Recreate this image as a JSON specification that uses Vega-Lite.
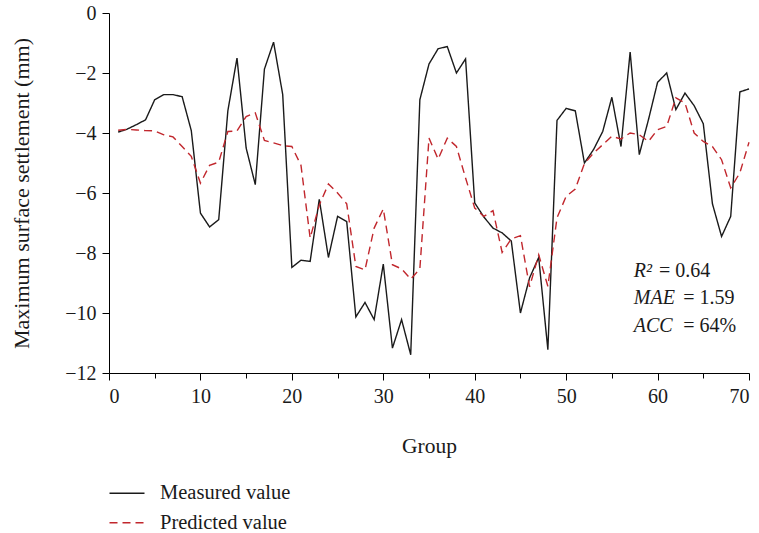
{
  "$schema": "https://vega.github.io/schema/vega-lite/v6.json",
  "width": 640,
  "height": 360,
  "autosize": {"type": "none"},
  "padding": {"left": 109, "top": 13, "right": 10, "bottom": 160},
  "config": {
    "font": "Liberation Serif",
    "view": {"stroke": null},
    "axis": {
      "domainColor": "#000",
      "tickColor": "#000",
      "labelColor": "#1a1a1a",
      "titleColor": "#1a1a1a",
      "labelFontSize": 20,
      "titleFontSize": 21.5,
      "titleFontWeight": "normal",
      "labelFont": "Liberation Serif",
      "titleFont": "Liberation Serif",
      "grid": false
    },
    "legend": {
      "title": null,
      "orient": "none",
      "legendX": 7.75,
      "legendY": 470,
      "direction": "vertical",
      "symbolType": "M-2,0L2,0",
      "symbolSize": 306,
      "symbolStrokeWidth": 1.4,
      "labelFontSize": 20.5,
      "labelFont": "Liberation Serif",
      "labelColor": "#1a1a1a",
      "labelOffset": 22.75,
      "rowPadding": 8.5,
      "padding": 0
    }
  },
  "datasets": {
    "series": [
      {"group":1,"series":"Measured value","value":-3.97},
      {"group":2,"series":"Measured value","value":-3.87},
      {"group":3,"series":"Measured value","value":-3.72},
      {"group":4,"series":"Measured value","value":-3.56},
      {"group":5,"series":"Measured value","value":-2.89},
      {"group":6,"series":"Measured value","value":-2.72},
      {"group":7,"series":"Measured value","value":-2.72},
      {"group":8,"series":"Measured value","value":-2.79},
      {"group":9,"series":"Measured value","value":-3.92},
      {"group":10,"series":"Measured value","value":-6.67},
      {"group":11,"series":"Measured value","value":-7.13},
      {"group":12,"series":"Measured value","value":-6.89},
      {"group":13,"series":"Measured value","value":-3.26},
      {"group":14,"series":"Measured value","value":-1.5},
      {"group":15,"series":"Measured value","value":-4.5},
      {"group":16,"series":"Measured value","value":-5.72},
      {"group":17,"series":"Measured value","value":-1.87},
      {"group":18,"series":"Measured value","value":-0.97},
      {"group":19,"series":"Measured value","value":-2.72},
      {"group":20,"series":"Measured value","value":-8.48},
      {"group":21,"series":"Measured value","value":-8.24},
      {"group":22,"series":"Measured value","value":-8.28},
      {"group":23,"series":"Measured value","value":-6.21},
      {"group":24,"series":"Measured value","value":-8.15},
      {"group":25,"series":"Measured value","value":-6.78},
      {"group":26,"series":"Measured value","value":-6.95},
      {"group":27,"series":"Measured value","value":-10.13},
      {"group":28,"series":"Measured value","value":-9.65},
      {"group":29,"series":"Measured value","value":-10.22},
      {"group":30,"series":"Measured value","value":-8.37},
      {"group":31,"series":"Measured value","value":-11.17},
      {"group":32,"series":"Measured value","value":-10.22},
      {"group":33,"series":"Measured value","value":-11.39},
      {"group":34,"series":"Measured value","value":-2.89},
      {"group":35,"series":"Measured value","value":-1.7},
      {"group":36,"series":"Measured value","value":-1.19},
      {"group":37,"series":"Measured value","value":-1.12},
      {"group":38,"series":"Measured value","value":-2.0},
      {"group":39,"series":"Measured value","value":-1.53},
      {"group":40,"series":"Measured value","value":-6.33},
      {"group":41,"series":"Measured value","value":-6.8},
      {"group":42,"series":"Measured value","value":-7.17},
      {"group":43,"series":"Measured value","value":-7.33},
      {"group":44,"series":"Measured value","value":-7.6},
      {"group":45,"series":"Measured value","value":-10.0},
      {"group":46,"series":"Measured value","value":-8.83},
      {"group":47,"series":"Measured value","value":-8.15},
      {"group":48,"series":"Measured value","value":-11.22},
      {"group":49,"series":"Measured value","value":-3.58},
      {"group":50,"series":"Measured value","value":-3.18},
      {"group":51,"series":"Measured value","value":-3.26},
      {"group":52,"series":"Measured value","value":-5.0},
      {"group":53,"series":"Measured value","value":-4.55},
      {"group":54,"series":"Measured value","value":-3.95},
      {"group":55,"series":"Measured value","value":-2.81},
      {"group":56,"series":"Measured value","value":-4.45},
      {"group":57,"series":"Measured value","value":-1.3},
      {"group":58,"series":"Measured value","value":-4.72},
      {"group":59,"series":"Measured value","value":-3.56},
      {"group":60,"series":"Measured value","value":-2.31},
      {"group":61,"series":"Measured value","value":-2.0},
      {"group":62,"series":"Measured value","value":-3.22},
      {"group":63,"series":"Measured value","value":-2.67},
      {"group":64,"series":"Measured value","value":-3.09},
      {"group":65,"series":"Measured value","value":-3.69},
      {"group":66,"series":"Measured value","value":-6.36},
      {"group":67,"series":"Measured value","value":-7.45},
      {"group":68,"series":"Measured value","value":-6.78},
      {"group":69,"series":"Measured value","value":-2.63},
      {"group":70,"series":"Measured value","value":-2.53},
      {"group":1,"series":"Predicted value","value":-3.91},
      {"group":2,"series":"Predicted value","value":-3.88},
      {"group":3,"series":"Predicted value","value":-3.9},
      {"group":4,"series":"Predicted value","value":-3.92},
      {"group":5,"series":"Predicted value","value":-3.93},
      {"group":6,"series":"Predicted value","value":-4.06},
      {"group":7,"series":"Predicted value","value":-4.13},
      {"group":8,"series":"Predicted value","value":-4.45},
      {"group":9,"series":"Predicted value","value":-4.78},
      {"group":10,"series":"Predicted value","value":-5.67},
      {"group":11,"series":"Predicted value","value":-5.08},
      {"group":12,"series":"Predicted value","value":-4.97},
      {"group":13,"series":"Predicted value","value":-3.95},
      {"group":14,"series":"Predicted value","value":-3.93},
      {"group":15,"series":"Predicted value","value":-3.45},
      {"group":16,"series":"Predicted value","value":-3.33},
      {"group":17,"series":"Predicted value","value":-4.25},
      {"group":18,"series":"Predicted value","value":-4.33},
      {"group":19,"series":"Predicted value","value":-4.42},
      {"group":20,"series":"Predicted value","value":-4.45},
      {"group":21,"series":"Predicted value","value":-5.08},
      {"group":22,"series":"Predicted value","value":-7.5},
      {"group":23,"series":"Predicted value","value":-6.4},
      {"group":24,"series":"Predicted value","value":-5.7},
      {"group":25,"series":"Predicted value","value":-6.0},
      {"group":26,"series":"Predicted value","value":-6.36},
      {"group":27,"series":"Predicted value","value":-8.45},
      {"group":28,"series":"Predicted value","value":-8.56},
      {"group":29,"series":"Predicted value","value":-7.17},
      {"group":30,"series":"Predicted value","value":-6.53},
      {"group":31,"series":"Predicted value","value":-8.39},
      {"group":32,"series":"Predicted value","value":-8.53},
      {"group":33,"series":"Predicted value","value":-8.87},
      {"group":34,"series":"Predicted value","value":-8.53},
      {"group":35,"series":"Predicted value","value":-4.17},
      {"group":36,"series":"Predicted value","value":-4.87},
      {"group":37,"series":"Predicted value","value":-4.17},
      {"group":38,"series":"Predicted value","value":-4.45},
      {"group":39,"series":"Predicted value","value":-5.5},
      {"group":40,"series":"Predicted value","value":-6.5},
      {"group":41,"series":"Predicted value","value":-6.78},
      {"group":42,"series":"Predicted value","value":-6.59},
      {"group":43,"series":"Predicted value","value":-7.98},
      {"group":44,"series":"Predicted value","value":-7.53},
      {"group":45,"series":"Predicted value","value":-7.42},
      {"group":46,"series":"Predicted value","value":-9.13},
      {"group":47,"series":"Predicted value","value":-8.06},
      {"group":48,"series":"Predicted value","value":-9.11},
      {"group":49,"series":"Predicted value","value":-6.83},
      {"group":50,"series":"Predicted value","value":-6.11},
      {"group":51,"series":"Predicted value","value":-5.87},
      {"group":52,"series":"Predicted value","value":-5.02},
      {"group":53,"series":"Predicted value","value":-4.67},
      {"group":54,"series":"Predicted value","value":-4.39},
      {"group":55,"series":"Predicted value","value":-4.11},
      {"group":56,"series":"Predicted value","value":-4.2},
      {"group":57,"series":"Predicted value","value":-4.0},
      {"group":58,"series":"Predicted value","value":-4.06},
      {"group":59,"series":"Predicted value","value":-4.28},
      {"group":60,"series":"Predicted value","value":-3.89},
      {"group":61,"series":"Predicted value","value":-3.78},
      {"group":62,"series":"Predicted value","value":-2.83},
      {"group":63,"series":"Predicted value","value":-3.0},
      {"group":64,"series":"Predicted value","value":-4.0},
      {"group":65,"series":"Predicted value","value":-4.28},
      {"group":66,"series":"Predicted value","value":-4.45},
      {"group":67,"series":"Predicted value","value":-4.89},
      {"group":68,"series":"Predicted value","value":-5.83},
      {"group":69,"series":"Predicted value","value":-5.33},
      {"group":70,"series":"Predicted value","value":-4.31}
    ],
    "stats": [
      {"name": "R²", "rest": "= 0.64", "gx": 57.4, "rx": 60.15, "v": -8.79},
      {"name": "MAE", "rest": "= 1.59", "gx": 57.4, "rx": 62.8, "v": -9.69},
      {"name": "ACC", "rest": "= 64%", "gx": 57.4, "rx": 62.8, "v": -10.62}
    ]
  },
  "layer": [
    {
      "data": {"name": "series"},
      "mark": {"type": "line", "strokeWidth": 1.4},
      "encoding": {
        "x": {
          "field": "group", "type": "quantitative",
          "scale": {"domain": [0, 70], "nice": false},
          "axis": {
            "title": "Group",
            "values": [0,5,10,15,20,25,30,35,40,45,50,55,60,65,70],
            "labelExpr": "datum.value % 10 === 0 ? datum.label : ''",
            "tickSize": {"condition": {"test": "datum.value % 10 === 0", "value": 7}, "value": 5},
            "labelPadding": 6,
            "titlePadding": 29
          }
        },
        "y": {
          "field": "value", "type": "quantitative",
          "scale": {"domain": [-12, 0], "nice": false},
          "axis": {
            "title": "Maximum surface settlement (mm)",
            "titleFontSize": 22,
            "values": [-12,-11,-10,-9,-8,-7,-6,-5,-4,-3,-2,-1,0],
            "labelExpr": "datum.value % 2 !== 0 ? '' : (datum.value === 0 ? '0' : '−' + abs(datum.value))",
            "tickSize": {"condition": {"test": "datum.value % 2 === 0", "value": 7}, "value": 4},
            "labelPadding": 6,
            "titlePadding": 31
          }
        },
        "color": {
          "field": "series", "type": "nominal",
          "scale": {"domain": ["Measured value", "Predicted value"], "range": ["#1a1a1a", "#c1272d"]}
        },
        "strokeDash": {
          "field": "series", "type": "nominal",
          "scale": {"domain": ["Measured value", "Predicted value"], "range": [[1, 0], [8, 5]]}
        }
      }
    },
    {
      "data": {"name": "stats"},
      "mark": {"type": "text", "align": "left", "baseline": "alphabetic", "fontSize": 20, "fontStyle": "italic", "font": "Liberation Serif", "color": "#1a1a1a"},
      "encoding": {
        "x": {"field": "gx", "type": "quantitative"},
        "y": {"field": "v", "type": "quantitative"},
        "text": {"field": "name"}
      }
    },
    {
      "data": {"name": "stats"},
      "mark": {"type": "text", "align": "left", "baseline": "alphabetic", "fontSize": 20, "font": "Liberation Serif", "color": "#1a1a1a"},
      "encoding": {
        "x": {"field": "rx", "type": "quantitative"},
        "y": {"field": "v", "type": "quantitative"},
        "text": {"field": "rest"}
      }
    }
  ]
}
